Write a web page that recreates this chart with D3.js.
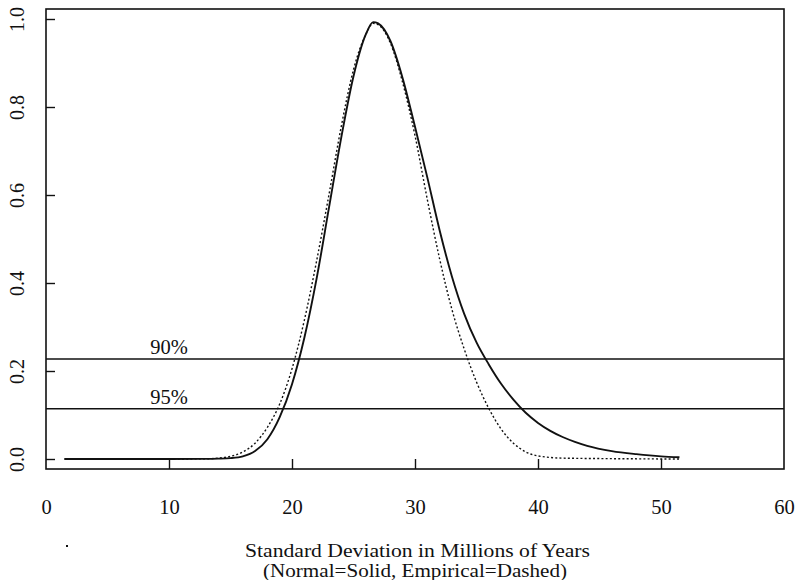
<!DOCTYPE html>
<html><head><meta charset="utf-8">
<script src="https://cdn.jsdelivr.net/npm/d3@7"></script>
<style>body{margin:0;background:#fff}svg{display:block}text{font-family:"Liberation Serif","Times New Roman",serif;fill:#111}</style>
</head><body><svg id="c" width="798" height="580"></svg>
<script>
const xTicks = [0, 10, 20, 30, 40, 50, 60];
const yTicks = [0.0, 0.2, 0.4, 0.6, 0.8, 1.0];
const normalX = [1.5, 10, 13, 14, 15, 16, 17, 18, 19, 20, 21, 22, 23, 24, 25, 26, 26.6, 27, 28, 29, 30, 31, 32, 33, 34, 35, 36, 37, 38, 39, 40, 41, 42, 43, 44, 46, 48, 50, 51.5];
const normalY = [0, 0, 0.0003, 0.0008, 0.002, 0.006, 0.018, 0.045, 0.095, 0.17, 0.275, 0.41, 0.57, 0.73, 0.87, 0.965, 0.993, 0.99, 0.95, 0.865, 0.755, 0.64, 0.52, 0.415, 0.33, 0.265, 0.215, 0.171, 0.135, 0.105, 0.082, 0.064, 0.05, 0.039, 0.03, 0.018, 0.011, 0.006, 0.004];
const empX = [1.5, 10, 13, 14, 15, 16, 17, 18, 19, 20, 21, 22, 23, 24, 25, 26, 26.6, 27, 28, 29, 30, 31, 32, 33, 34, 35, 36, 37, 38, 39, 40, 42, 45, 51.5];
const empY = [0, 0, 0.0005, 0.002, 0.006, 0.016, 0.036, 0.072, 0.125, 0.205, 0.315, 0.45, 0.6, 0.755, 0.885, 0.965, 0.99, 0.987, 0.945, 0.855, 0.735, 0.59, 0.455, 0.34, 0.25, 0.175, 0.115, 0.068, 0.036, 0.016, 0.007, 0.002, 0.001, 0];
const refLabels = ["90%", "95%"];
const refValues = [0.227, 0.114];
const refLabelX = [10, 10];
const xTitle = ["Standard Deviation in Millions of Years", "(Normal=Solid, Empirical=Dashed)"];

const svg = d3.select("#c");
const L = 46, R = 784, T = 9, B = 469;
const x = d3.scaleLinear().domain([0, 60]).range([L, R]);
const y = d3.scaleLinear().domain([0, 1]).range([459, 19]);

// frame
svg.append("rect").attr("x", L).attr("y", T).attr("width", R - L).attr("height", B - T)
  .attr("fill", "none").attr("stroke", "#111").attr("stroke-width", 1.6);

// x axis ticks (inward) and labels
const xa = svg.append("g").attr("transform", `translate(0,${B})`)
  .call(d3.axisBottom(x).tickValues(xTicks).tickSize(-10).tickPadding(30).tickFormat(d3.format("d")));
xa.select(".domain").remove();
xa.selectAll("line").attr("stroke", "#111").attr("stroke-width", 1.4);
xa.selectAll("line").filter(d => d === 0 || d === 60).remove();
xa.selectAll("text").attr("font-size", 20.5).attr("font-family", "Liberation Serif").attr("fill", "#111");

// y axis ticks (inward) and rotated labels
const ya = svg.append("g").attr("transform", `translate(${L},0)`)
  .call(d3.axisLeft(y).tickValues(yTicks).tickSize(-9).tickPadding(0).tickFormat(d3.format(".1f")));
ya.select(".domain").remove();
ya.selectAll("line").attr("stroke", "#111").attr("stroke-width", 1.4);
ya.selectAll("text").remove();
ya.selectAll(".tick").append("text")
  .attr("transform", "translate(-29,0) rotate(-90)")
  .attr("text-anchor", "middle").attr("dy", "0.35em")
  .attr("font-size", 20).attr("fill", "#111")
  .text(d => d3.format(".1f")(d));

// reference lines
refValues.forEach((v, i) => {
  svg.append("line").attr("x1", L).attr("x2", R).attr("y1", y(v)).attr("y2", y(v))
    .attr("stroke", "#111").attr("stroke-width", 1.5);
  svg.append("text").attr("x", x(refLabelX[i])).attr("y", y(v) - 5)
    .attr("text-anchor", "middle").attr("font-size", 20.5).text(refLabels[i]);
});

const line = d3.line().x(d => x(d[0])).y(d => y(d[1])).curve(d3.curveMonotoneX);
svg.append("path").datum(empX.map((v, i) => [v, empY[i]])).attr("d", line)
  .attr("fill", "none").attr("stroke", "#111").attr("stroke-width", 1.4).attr("stroke-dasharray", "2,2.2");
svg.append("path").datum(normalX.map((v, i) => [v, normalY[i]])).attr("d", line)
  .attr("fill", "none").attr("stroke", "#111").attr("stroke-width", 1.9);

// axis title
svg.append("text").attr("x", 245).attr("y", 557).attr("font-size", 18.5)
  .attr("textLength", 345).attr("lengthAdjust", "spacingAndGlyphs").text(xTitle[0]);
svg.append("text").attr("x", 263).attr("y", 576.5).attr("font-size", 18.5)
  .attr("textLength", 304).attr("lengthAdjust", "spacingAndGlyphs").text(xTitle[1]);

// small speck
svg.append("rect").attr("x", 66).attr("y", 545).attr("width", 2).attr("height", 2).attr("fill", "#111");
</script></body></html>
